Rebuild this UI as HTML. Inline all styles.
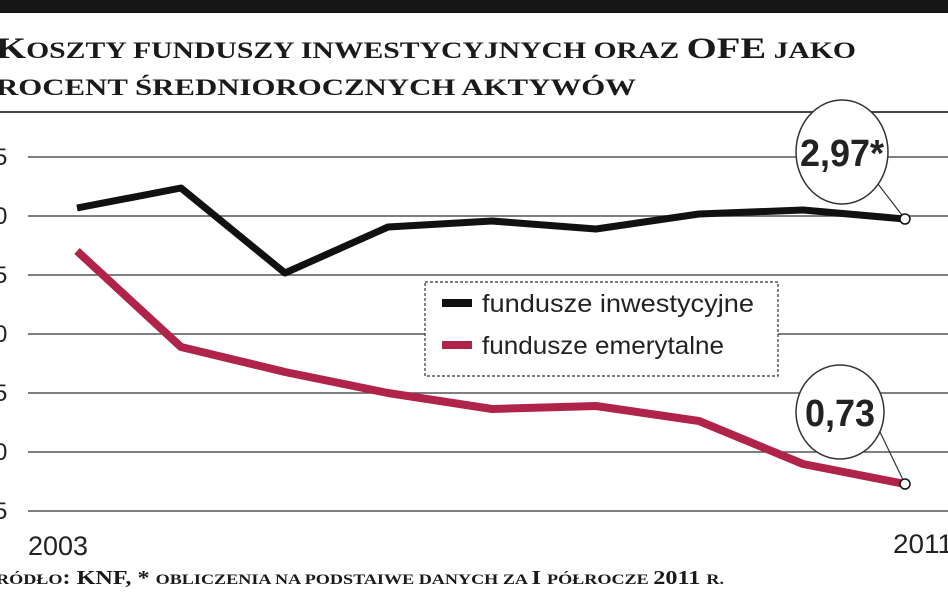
<!DOCTYPE html>
<html><head><meta charset="utf-8"><style>
body{margin:0;background:#fff;width:948px;height:593px;overflow:hidden}
svg{display:block}
.t{font-family:"Liberation Serif",serif;font-weight:bold;fill:#1a1a1a}
.a{font-family:"Liberation Sans",sans-serif;fill:#222}
</style></head><body>
<svg width="948" height="593" viewBox="0 0 948 593">
<rect x="0" y="0" width="948" height="13" fill="#161616"/>
<text class="t" x="-4" y="58" font-size="30" textLength="860" lengthAdjust="spacingAndGlyphs">K<tspan font-size="23">OSZTY FUNDUSZY INWESTYCYJNYCH ORAZ </tspan>OFE<tspan font-size="23"> JAKO</tspan></text>
<text class="t" x="-4" y="95" font-size="23" textLength="640" lengthAdjust="spacingAndGlyphs">ROCENT ŚREDNIOROCZNYCH AKTYWÓW</text>
<line x1="0" y1="112" x2="948" y2="112" stroke="#444" stroke-width="2"/>
<g stroke="#555" stroke-width="1.5">
<line x1="28" y1="157" x2="948" y2="157"/><line x1="28" y1="216" x2="948" y2="216"/>
<line x1="28" y1="275" x2="948" y2="275"/><line x1="28" y1="334" x2="948" y2="334"/>
<line x1="28" y1="393" x2="948" y2="393"/><line x1="28" y1="452" x2="948" y2="452"/>
<line x1="28" y1="511" x2="948" y2="511"/></g>
<g class="a" font-size="24">
<text x="-6" y="165">5</text><text x="-6" y="224">0</text><text x="-6" y="283">5</text>
<text x="-6" y="342">0</text><text x="-6" y="401">5</text><text x="-6" y="460">0</text><text x="-6" y="519">5</text>
<text x="28" y="555" font-size="27" textLength="60" lengthAdjust="spacingAndGlyphs">2003</text>
<text x="893" y="553" font-size="27" textLength="60" lengthAdjust="spacingAndGlyphs">2011</text>
</g>
<polyline fill="none" stroke="#b0244a" stroke-width="8" stroke-linejoin="round" points="77,251 181,347 285,372 388,393 492,409 596,406 699,421 803,464 905,484"/>
<polyline fill="none" stroke="#111" stroke-width="7" stroke-linejoin="round" points="77,208 181,188 285,273 388,227 492,221 596,229 699,214 803,210 905,219"/>
<rect x="425" y="282" width="353" height="94" fill="#fff" stroke="#333" stroke-dasharray="3,2" stroke-width="1.2"/>
<line x1="442" y1="303" x2="472" y2="303" stroke="#111" stroke-width="8"/>
<line x1="442" y1="345" x2="472" y2="345" stroke="#b0244a" stroke-width="8"/>
<text class="a" x="482" y="312" font-size="25" textLength="272" lengthAdjust="spacingAndGlyphs">fundusze inwestycyjne</text>
<text class="a" x="482" y="354" font-size="25" textLength="242" lengthAdjust="spacingAndGlyphs">fundusze emerytalne</text>
<ellipse cx="842" cy="152" rx="46" ry="52" fill="#fff" stroke="#333" stroke-width="1.5"/>
<line x1="878" y1="184" x2="905" y2="219" stroke="#333" stroke-width="1.2"/>
<text class="a" x="842" y="166" font-size="38" font-weight="bold" text-anchor="middle" textLength="84" lengthAdjust="spacingAndGlyphs" fill="#111">2,97*</text>
<ellipse cx="840" cy="412" rx="44" ry="47" fill="#fff" stroke="#333" stroke-width="1.5"/>
<line x1="880" y1="432" x2="905" y2="484" stroke="#333" stroke-width="1.2"/>
<text class="a" x="840" y="426" font-size="38" font-weight="bold" text-anchor="middle" textLength="70" lengthAdjust="spacingAndGlyphs" fill="#111">0,73</text>
<circle cx="905" cy="219" r="5" fill="#fff" stroke="#111" stroke-width="1.5"/>
<circle cx="905" cy="484" r="5" fill="#fff" stroke="#111" stroke-width="1.5"/>
<text class="t" x="-4" y="584" font-size="20" textLength="728" lengthAdjust="spacingAndGlyphs"><tspan font-size="15">RÓDŁO</tspan>: KNF, * <tspan font-size="15">OBLICZENIA NA PODSTAIWE DANYCH ZA </tspan>I <tspan font-size="15">PÓŁROCZE </tspan>2011 <tspan font-size="15">R.</tspan></text>
</svg>
</body></html>
